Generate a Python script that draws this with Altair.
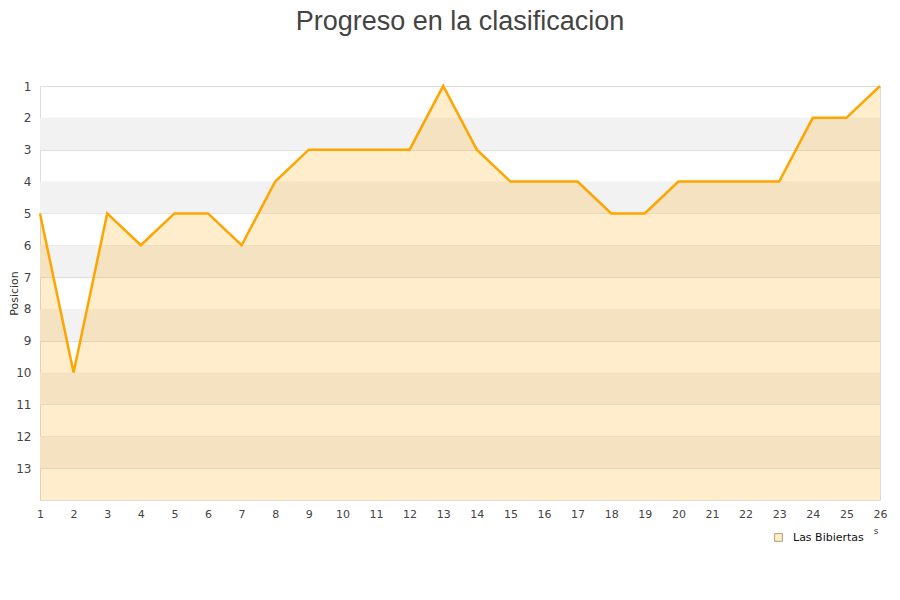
import altair as alt
import pandas as pd

jornadas = list(range(1, 27))
posiciones = [5, 10, 5, 6, 5, 5, 6, 4, 3, 3, 3, 3, 1, 3, 4, 4, 4, 5, 5, 4, 4, 4, 4, 2, 2, 1]
team = "Las Bibiertas"
band_starts = [2, 4, 6, 8, 10, 12]
y_ticks = list(range(1, 14))

df = pd.DataFrame({"Jornada": jornadas, "Posicion": posiciones, "Equipo": [team] * len(jornadas)})
df["base"] = 14
bands = pd.DataFrame({"y1": band_starts, "y2": [b + 1 for b in band_starts]})

xscale = alt.Scale(domain=[1, 26], nice=False, zero=False)
yscale = alt.Scale(domain=[1, 14], reverse=True, nice=False, zero=False)

xaxis = alt.Axis(values=jornadas, title=None, grid=False, ticks=False,
                 domain=False, labelColor="#444", labelFontSize=11,
                 labelPadding=8, format="d", labelFont="DejaVu Sans",
                 labelOverlap=False, labelFlush=False)
yaxis = alt.Axis(values=y_ticks, title="Posicion", grid=True, gridColor="#DDDDDD",
                 ticks=False, domain=True, domainColor="#DDDDDD",
                 labelColor="#444", labelFontSize=12, labelPadding=9,
                 labelOverlap=False, labelFlush=False,
                 titleFontSize=11, titleFontWeight="normal", titleColor="#333",
                 titleX=-26, titleY=207, titleAlign="center", titleBaseline="middle",
                 labelFont="DejaVu Sans", titleFont="DejaVu Sans",
                 format="d")

band_layer = alt.Chart(bands).mark_rect(color="#F2F2F2").encode(
    x=alt.value(0), x2=alt.value(840),
    y=alt.Y("y1:Q", scale=yscale, axis=yaxis), y2="y2:Q",
)

area = alt.Chart(df).mark_area(color="#FFA500", opacity=0.2).encode(
    x=alt.X("Jornada:Q", scale=xscale, axis=xaxis),
    y=alt.Y("Posicion:Q", scale=yscale, axis=yaxis),
    y2="base:Q",
)

line = alt.Chart(df).mark_line(color="#FFA500", strokeWidth=2.5).encode(
    x=alt.X("Jornada:Q", scale=xscale, axis=xaxis),
    y=alt.Y("Posicion:Q", scale=yscale, axis=yaxis),
)

legend_layer = alt.Chart(df).mark_square(opacity=0).encode(
    x=alt.X("Jornada:Q", scale=xscale, axis=xaxis),
    y=alt.Y("Posicion:Q", scale=yscale, axis=yaxis),
    color=alt.Color("Equipo:N",
                    scale=alt.Scale(domain=[team], range=["#FFEDCC"]),
                    legend=alt.Legend(orient="none", legendX=733, legendY=446, title=None,
                                      symbolType="square", symbolSize=60, symbolOpacity=1,
                                      symbolStrokeColor="#B8A070", symbolStrokeWidth=1,
                                      symbolFillColor="#FFEDCC", labelOffset=9,
                                      labelFontSize=11, labelColor="#111",
                                      labelFont="DejaVu Sans")),
)

stray = alt.Chart(pd.DataFrame({"t": ["s"]})).mark_text(
    fontSize=9, color="#444", font="DejaVu Sans"
).encode(text="t:N", x=alt.value(836), y=alt.value(445))

chart = alt.layer(band_layer, area, line, legend_layer, stray).properties(
    width=840, height=414,
    title=alt.TitleParams("Progreso en la clasificacion", fontSize=27, font="Liberation Sans",
                          fontWeight="normal", color="#444", anchor="middle", offset=44),
    autosize=alt.AutoSizeParams(type="none"),
    padding={"left": 32, "top": 78, "right": 12, "bottom": 60},
).configure_view(stroke="#DDDDDD", strokeWidth=1)

chart.save("out.html", embed_options={"renderer": "svg", "actions": False})
